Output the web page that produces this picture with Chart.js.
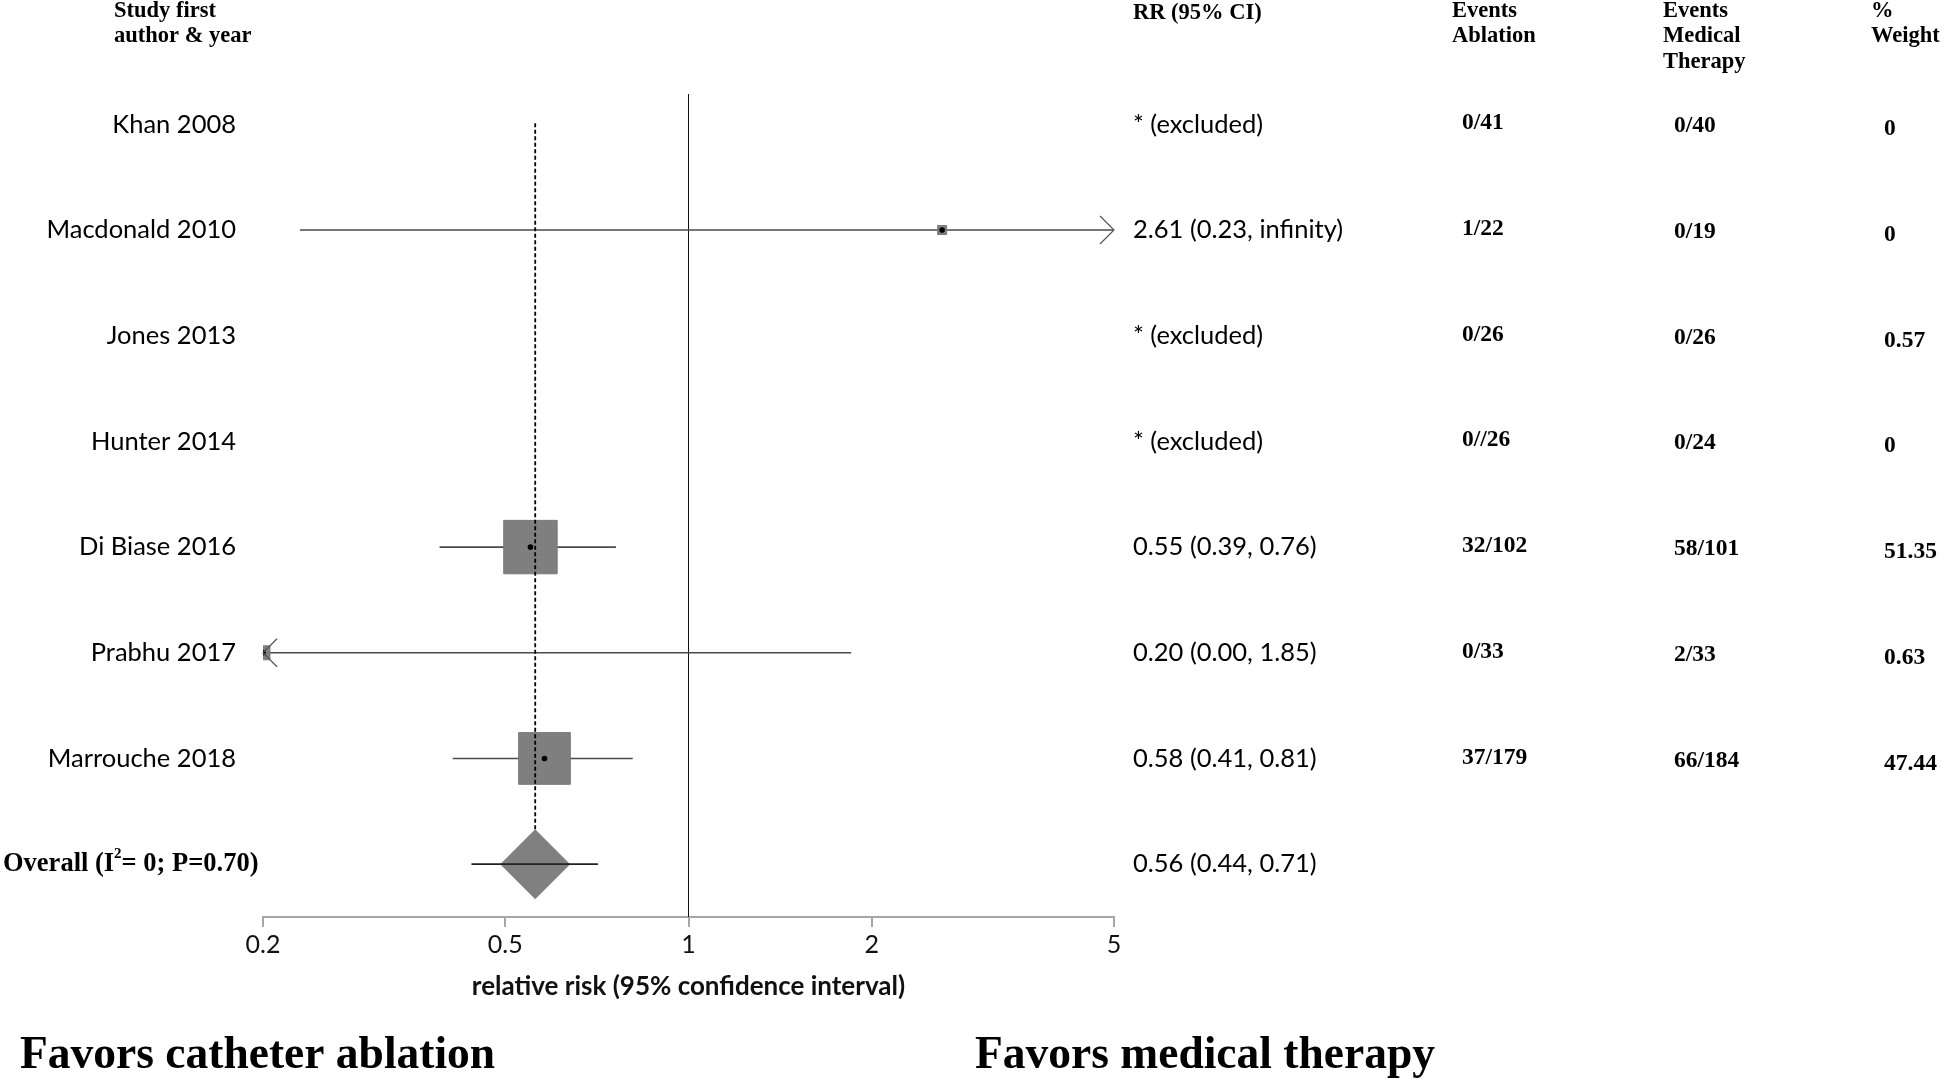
<!DOCTYPE html>
<html>
<head>
<meta charset="utf-8">
<script src="https://cdn.jsdelivr.net/npm/chart.js@4.4.0/dist/chart.umd.min.js"></script>
<style>
  html, body { margin: 0; padding: 0; background: #fff; }
  #wrap { width: 1946px; height: 1081px; }
</style>
</head>
<body>
<div id="wrap"><canvas id="forest" width="1946" height="1081"></canvas></div>
<script>
// data
const studies = ['Khan 2008', 'Macdonald 2010', 'Jones 2013', 'Hunter 2014', 'Di Biase 2016', 'Prabhu 2017', 'Marrouche 2018'];
const rr = [null, 2.61, null, null, 0.55, 0.20, 0.58];
const ciLow = [null, 0.23, null, null, 0.39, 0.00, 0.41];
const ciHigh = [null, Infinity, null, null, 0.76, 1.85, 0.81];
const rrText = ['* (excluded)', '2.61 (0.23, infinity)', '* (excluded)', '* (excluded)', '0.55 (0.39, 0.76)', '0.20 (0.00, 1.85)', '0.58 (0.41, 0.81)'];
const eventsAblation = ['0/41', '1/22', '0/26', '0//26', '32/102', '0/33', '37/179'];
const eventsMedical = ['0/40', '0/19', '0/26', '0/24', '58/101', '2/33', '66/184'];
const weights = ['0', '0', '0.57', '0', '51.35', '0.63', '47.44'];
const overallLabel = 'Overall (I';
const overallRR = 0.56;
const overallLow = 0.44;
const overallHigh = 0.71;
const overallText = '0.56 (0.44, 0.71)';
const xTicks = [0.2, 0.5, 1, 2, 5];

const X_MIN = 0.2, X_MAX = 5;
const Y_MIN = -0.287, Y_MAX = 7.5;
const overallRow = studies.length;

const sans = 'Lato, "Open Sans", sans-serif';
const serif = '"Liberation Serif", "Times New Roman", serif';

const clampX = v => Math.min(X_MAX, Math.max(X_MIN, v));

// CI whiskers, one line dataset per study
const ciSets = [];
studies.forEach((s, i) => {
    if (rr[i] === null) return;
    ciSets.push({
        type: 'line',
        data: [{ x: clampX(ciLow[i]), y: i }, { x: clampX(ciHigh[i]), y: i }],
        borderColor: '#4a4a4a',
        borderWidth: 1.6,
        pointRadius: 0,
        order: 5
    });
});

const boxPoints = [];
const boxSizes = [];
const dotPoints = [];
studies.forEach((s, i) => {
    if (rr[i] === null) return;
    boxPoints.push({ x: rr[i], y: i });
    const w = parseFloat(weights[i]);
    // side length grows with weight; pointRadius for rect = side / sqrt(2)
    boxSizes.push((9 + 6.2 * Math.sqrt(w)) / Math.SQRT2);
    dotPoints.push({ x: rr[i], y: i });
});

const datasets = [
    {
        // centre dots
        type: 'scatter',
        data: dotPoints,
        pointStyle: 'circle',
        pointRadius: 2.8,
        backgroundColor: '#000',
        borderWidth: 0,
        order: 0
    },
    {
        // dashed line at pooled estimate
        type: 'line',
        data: [{ x: overallRR, y: -0.01 }, { x: overallRR, y: overallRow - 0.33 }],
        borderColor: '#000',
        borderWidth: 1.8,
        borderDash: [4, 2.5],
        pointRadius: 0,
        order: 1
    },
    {
        // weighted squares
        type: 'scatter',
        data: boxPoints,
        pointStyle: 'rect',
        pointRadius: boxSizes,
        backgroundColor: '#7f7f7f',
        borderColor: '#7a7a7a',
        borderWidth: 1,
        order: 2
    },
    {
        // pooled CI
        type: 'line',
        data: [{ x: overallLow, y: overallRow }, { x: overallHigh, y: overallRow }],
        borderColor: '#222',
        borderWidth: 1.8,
        pointRadius: 0,
        order: 3
    },
    {
        // pooled diamond
        type: 'scatter',
        data: [{ x: overallRR, y: overallRow }],
        pointStyle: 'rectRot',
        pointRadius: 35,
        backgroundColor: '#808080',
        borderWidth: 0,
        order: 4
    },
    ...ciSets,
    {
        // line of no effect
        type: 'line',
        data: [{ x: 1, y: Y_MIN }, { x: 1, y: Y_MAX }],
        borderColor: '#111',
        borderWidth: 1,
        pointRadius: 0,
        order: 6
    }
];

const textPlugin = {
    id: 'forestText',
    afterDatasetsDraw(chart) {
        const ctx = chart.ctx;
        const xs = chart.scales.x;
        const ys = chart.scales.y;
        ctx.save();

        // arrowheads where CI runs off the axis
        ctx.strokeStyle = '#555';
        ctx.lineWidth = 1.2;
        studies.forEach((s, i) => {
            if (rr[i] === null) return;
            const y = ys.getPixelForValue(i);
            if (ciHigh[i] > X_MAX) {
                const x = xs.getPixelForValue(X_MAX);
                ctx.beginPath();
                ctx.moveTo(x - 14, y - 14); ctx.lineTo(x, y); ctx.lineTo(x - 14, y + 14);
                ctx.stroke();
            }
            if (ciLow[i] < X_MIN) {
                const x = xs.getPixelForValue(X_MIN);
                ctx.beginPath();
                ctx.moveTo(x + 14, y - 14); ctx.lineTo(x, y); ctx.lineTo(x + 14, y + 14);
                ctx.stroke();
            }
        });

        ctx.fillStyle = '#000';
        ctx.textBaseline = 'middle';

        // headers
        ctx.font = 'bold 22.5px ' + serif;
        ctx.textAlign = 'left';
        ctx.fillText('Study first', 114, 11);
        ctx.fillText('author & year', 114, 36);
        ctx.fillText('RR (95% CI)', 1133, 13);
        ctx.fillText('Events', 1452, 11);
        ctx.fillText('Ablation', 1452, 36);
        ctx.fillText('Events', 1663, 11);
        ctx.fillText('Medical', 1663, 36);
        ctx.fillText('Therapy', 1663, 62);
        ctx.fillText('%', 1871, 11);
        ctx.fillText('Weight', 1871, 36);

        // study rows
        studies.forEach((s, i) => {
            const y = ys.getPixelForValue(i);
            ctx.font = '25.5px ' + sans;
            ctx.textAlign = 'right';
            ctx.fillText(s, 236, y);
            ctx.textAlign = 'left';
            ctx.fillText(rrText[i], 1133, y);
            ctx.font = 'bold 23.5px ' + serif;
            ctx.fillText(eventsAblation[i], 1462, y - 1);
            ctx.fillText(eventsMedical[i], 1674, y + 2);
            ctx.fillText(weights[i], 1884, y + 5);
        });

        // overall row
        const yo = ys.getPixelForValue(overallRow);
        ctx.font = 'bold 26.5px ' + serif;
        ctx.textAlign = 'left';
        let x = 3;
        ctx.fillText(overallLabel, x, yo);
        x += ctx.measureText(overallLabel).width;
        ctx.font = 'bold 15px ' + serif;
        ctx.fillText('2', x, yo - 10);
        x += ctx.measureText('2').width;
        ctx.font = 'bold 26.5px ' + serif;
        ctx.fillText('= 0; P=0.70)', x, yo);
        ctx.font = '25.5px ' + sans;
        ctx.fillText(overallText, 1133, yo);

        // favours labels
        ctx.font = 'bold 45.5px ' + serif;
        ctx.fillText('Favors catheter ablation', 20, 1056);
        ctx.fillText('Favors medical therapy', 975, 1056);

        ctx.restore();
    }
};

new Chart(document.getElementById('forest'), {
    data: { datasets: datasets },
    options: {
        responsive: false,
        animation: false,
        layout: { padding: { left: 263, right: 832, top: 94, bottom: 79 } },
        plugins: { legend: { display: false }, tooltip: { enabled: false } },
        scales: {
            x: {
                type: 'logarithmic',
                min: X_MIN,
                max: X_MAX,
                afterBuildTicks: s => { s.ticks = xTicks.map(v => ({ value: v })); },
                afterFit: s => { s.height = 85; },
                border: { color: '#a6a6a6', width: 2 },
                grid: { drawOnChartArea: false, drawTicks: true, tickLength: 10, color: '#a6a6a6', lineWidth: 2 },
                ticks: {
                    font: { family: sans, size: 25 },
                    color: '#111',
                    padding: 3,
                    autoSkip: false,
                    maxRotation: 0,
                    callback: v => String(v)
                },
                title: {
                    display: true,
                    text: 'relative risk (95% confidence interval)',
                    font: { family: sans, size: 26, weight: 'bold' },
                    color: '#111',
                    padding: { top: 2, bottom: 0 }
                }
            },
            y: {
                type: 'linear',
                reverse: true,
                min: Y_MIN,
                max: Y_MAX,
                display: false
            }
        }
    },
    plugins: [textPlugin]
});
</script>
</body>
</html>
